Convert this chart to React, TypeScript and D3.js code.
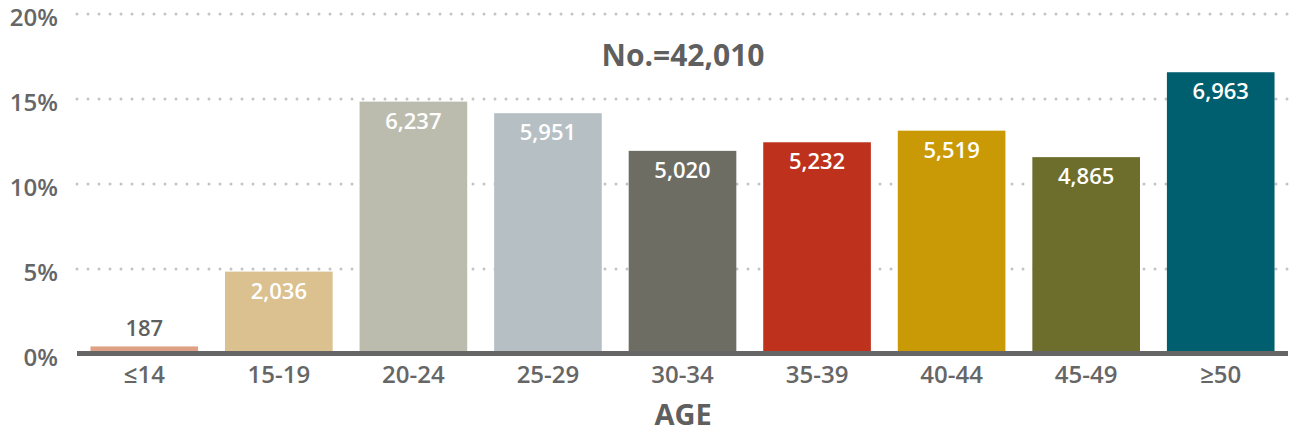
import React from "react";
import * as d3 from "d3";

const categories = ["≤14", "15-19", "20-24", "25-29", "30-34", "35-39", "40-44", "45-49", "≥50"];
const counts = [187, 2036, 6237, 5951, 5020, 5232, 5519, 4865, 6963];
const barColors = ["#DFA185", "#DBC090", "#BBBCAD", "#B6C0C4", "#6D6D64", "#BE311C", "#C99A05", "#6D6E2B", "#005F6E"];
const yTicks = [0, 0.05, 0.1, 0.15, 0.2];
const totalLabel = "No.=42,010";
const xTitle = "AGE";

const W = 1291;
const H = 432;
const FONT = "'Open Sans', 'Noto Sans', sans-serif";

export default function App() {
  const total = d3.sum(counts);
  const x = d3.scaleBand<string>().domain(categories).range([77, 1288]).paddingInner(0.2).paddingOuter(0.1);
  const y = d3.scaleLinear().domain([0, 0.2]).range([354, 14]);
  const fmt = d3.format(",");
  const pctFmt = (v: number) => `${Math.round(v * 100)}%`;

  return (
    <svg width={W} height={H} style={{ position: "absolute", left: 0, top: 0, display: "block" }} fontFamily={FONT}>
      <rect x={0} y={0} width={W} height={H} fill="#ffffff" />
      {yTicks.filter((t) => t > 0).map((t) => (
        <line key={"g" + t} x1={77} x2={W} y1={y(t)} y2={y(t)} stroke="#c4c4c4" strokeWidth={3} strokeLinecap="round" strokeDasharray="0 11" />
      ))}
      {yTicks.map((t) => (
        <text key={"t" + t} x={58} y={y(t) + 12} textAnchor="end" fontSize={24} fontWeight={600} fill="#666666">
          {pctFmt(t)}
        </text>
      ))}
      {categories.map((c, i) => {
        const v = counts[i] / total;
        const bx = x(c)!;
        const by = y(v);
        const bh = y(0) - by;
        const inside = bh > 30;
        return (
          <g key={c}>
            <rect x={bx} y={by} width={x.bandwidth()} height={bh} fill={barColors[i]} />
            <text x={bx + x.bandwidth() / 2} y={inside ? by + 27 : by - 10} textAnchor="middle" fontSize={22} fontWeight={600} fill={inside ? "#ffffff" : "#5f5f5f"}>
              {fmt(counts[i])}
            </text>
            <text x={bx + x.bandwidth() / 2} y={383} textAnchor="middle" fontSize={24} fontWeight={600} fill="#666666">
              {c}
            </text>
          </g>
        );
      })}
      <line x1={77} x2={1288} y1={353.5} y2={353.5} stroke="#666666" strokeWidth={5} />
      <text x={683} y={66} textAnchor="middle" fontSize={30} fontWeight={700} fill="#5f5f5f">
        {totalLabel}
      </text>
      <text x={683} y={425} textAnchor="middle" fontSize={29} fontWeight={700} fill="#5f5f5f">
        {xTitle}
      </text>
    </svg>
  );
}
